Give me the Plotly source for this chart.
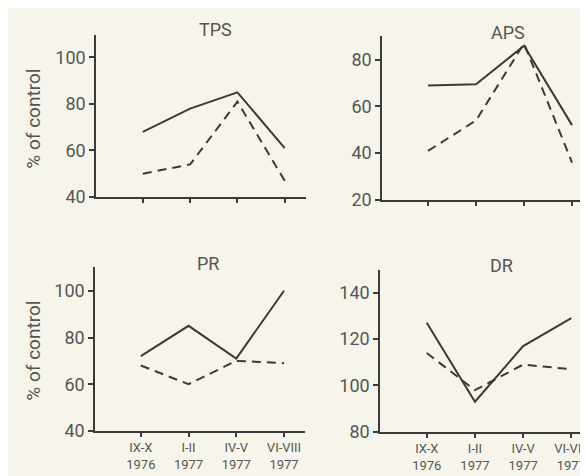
import plotly.graph_objects as go

periods = ["IX-X<br>1976", "I-II<br>1977", "IV-V<br>1977", "VI-VIII<br>1977"]
xpos = [0, 1, 2, 3]

tps_solid = [68, 78, 85, 61]
tps_dashed = [50, 54, 81, 47]
aps_solid = [69, 69.5, 86, 52]
aps_dashed = [41, 54, 87, 36]
pr_solid = [72, 85, 71, 100]
pr_dashed = [68, 60, 70, 69]
dr_solid = [127, 93, 117, 129]
dr_dashed = [114, 98, 109, 107]

titles = ["TPS", "APS", "PR", "DR"]
y_ticks = [[40, 60, 80, 100], [20, 40, 60, 80], [40, 60, 80, 100], [80, 100, 120, 140]]
y_ranges = [[40, 109.5], [20, 90], [40, 110], [80, 149.6]]

BG = "#f7f5eb"
INK = "#3a3a3a"
TXT = "#555555"
FONT = "Roboto, Liberation Sans, sans-serif"

W, H = 588, 476
panels = [(88, 298, 28, 193), (374, 588, 29, 196), (87, 297, 265, 432), (372, 586, 268, 433)]
x_ranges = [[-0.99, 3.45], [-0.96, 3.5], [-0.96, 3.44], [-0.97, 3.47]]

fig = go.Figure()
series = [(tps_solid, tps_dashed), (aps_solid, aps_dashed), (pr_solid, pr_dashed), (dr_solid, dr_dashed)]

for i, (s, d) in enumerate(series):
    n = "" if i == 0 else str(i + 1)
    xa, ya = "x" + n, "y" + n
    fig.add_trace(go.Scatter(x=xpos, y=s, mode="lines", xaxis=xa, yaxis=ya,
                             line=dict(color=INK, width=2), showlegend=False))
    fig.add_trace(go.Scatter(x=xpos, y=d, mode="lines", xaxis=xa, yaxis=ya,
                             line=dict(color=INK, width=2, dash="9px,6px"), showlegend=False))
    l, r, t, b = panels[i]
    xd = [l / W, r / W]
    yd = [1 - b / H, 1 - t / H]
    bottom = i >= 2
    fig.layout["xaxis" + n] = dict(
        domain=xd, range=x_ranges[i], anchor=ya, showgrid=False, zeroline=False,
        showline=True, linecolor=INK, linewidth=1.5,
        tickmode="array", tickvals=xpos,
        ticktext=periods if bottom else ["", "", "", ""],
        ticks="outside", ticklen=4, tickcolor=INK, tickwidth=1.5,
        tickfont=dict(family=FONT, size=13, color=TXT))
    fig.layout["yaxis" + n] = dict(
        domain=yd, range=y_ranges[i], anchor=xa, showgrid=False, zeroline=False,
        showline=True, linecolor=INK, linewidth=1.5,
        tickmode="array", tickvals=y_ticks[i],
        ticks="outside", ticklen=5, tickcolor=INK, tickwidth=1.5,
        tickfont=dict(family=FONT, size=18, color=TXT))

title_pos = [(207, 22), (500, 25), (200, 261), (493, 263)]
for (tx, ty), t in zip(title_pos, titles):
    fig.add_annotation(x=tx / W, y=1 - ty / H, xref="paper", yref="paper", text=t,
                       showarrow=False, font=dict(family=FONT, size=18, color=TXT),
                       xanchor="center", yanchor="middle")

for cy in (113, 350):
    fig.add_annotation(x=26 / W, y=1 - cy / H, xref="paper", yref="paper",
                       text="% of control", textangle=-90, showarrow=False,
                       font=dict(family=FONT, size=19, color=TXT),
                       xanchor="center", yanchor="middle")

fig.update_layout(width=W, height=H, margin=dict(l=0, r=0, t=0, b=0),
                  paper_bgcolor=BG, plot_bgcolor=BG)
fig.write_html("out.html")
